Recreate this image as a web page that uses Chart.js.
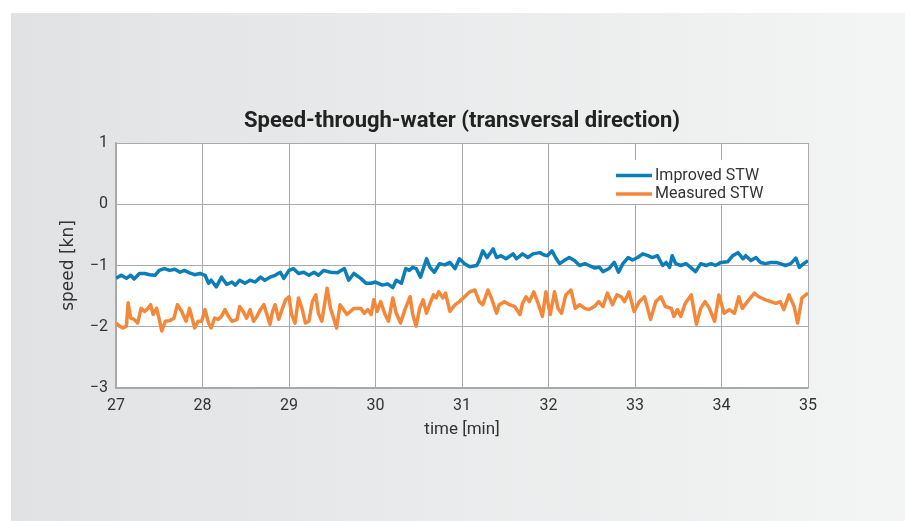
<!DOCTYPE html>
<html>
<head>
<meta charset="utf-8">
<script src="https://cdn.jsdelivr.net/npm/chart.js@4.4.1/dist/chart.umd.min.js"></script>
<style>
  html, body { margin: 0; padding: 0; background: #fff; }
  #panel { position: absolute; left: 11px; top: 13px; width: 894px; height: 508px;
           background: linear-gradient(90deg, #e1e2e3, #f3f4f4); }
  #wrap { position: absolute; left: 0; top: 0; width: 905px; height: 521px; }
</style>
</head>
<body>
<div id="panel"></div>
<div id="wrap"><canvas id="chart" width="905" height="521"></canvas></div>
<script>
// time in minutes, speed in knots
const timeImproved = [
  27.00, 27.06, 27.12, 27.17, 27.21, 27.27, 27.33, 27.39, 27.45, 27.50, 27.56, 27.62, 27.68, 27.74, 27.79, 27.85,
  27.91, 27.97, 28.03, 28.07, 28.10, 28.16, 28.22, 28.28, 28.34, 28.38, 28.43, 28.49, 28.55, 28.61, 28.67, 28.72,
  28.78, 28.84, 28.90, 28.94, 29.00, 29.05, 29.11, 29.17, 29.23, 29.29, 29.34, 29.40, 29.48, 29.56, 29.64, 29.69,
  29.75, 29.83, 29.89, 29.95, 30.00, 30.08, 30.14, 30.20, 30.24, 30.30, 30.35, 30.39, 30.43, 30.47, 30.52, 30.59,
  30.63, 30.68, 30.74, 30.80, 30.86, 30.92, 30.97, 31.03, 31.09, 31.17, 31.20, 31.24, 31.29, 31.36, 31.40, 31.45,
  31.51, 31.59, 31.63, 31.70, 31.76, 31.82, 31.90, 31.95, 31.99, 32.04, 32.09, 32.13, 32.18, 32.24, 32.30, 32.36,
  32.42, 32.47, 32.53, 32.59, 32.63, 32.70, 32.76, 32.81, 32.86, 32.92, 32.97, 33.03, 33.09, 33.15, 33.20, 33.26,
  33.32, 33.36, 33.40, 33.43, 33.47, 33.53, 33.59, 33.65, 33.70, 33.76, 33.82, 33.88, 33.93, 33.99, 34.07, 34.13,
  34.19, 34.25, 34.28, 34.34, 34.40, 34.45, 34.51, 34.57, 34.63, 34.68, 34.74, 34.80, 34.86, 34.90, 34.95, 35.00
];
const improved = [
  -1.21, -1.16, -1.21, -1.16, -1.22, -1.13, -1.13, -1.15, -1.16, -1.08, -1.05, -1.08, -1.06, -1.11, -1.08, -1.12,
  -1.15, -1.13, -1.16, -1.29, -1.24, -1.35, -1.19, -1.31, -1.27, -1.32, -1.24, -1.29, -1.24, -1.27, -1.19, -1.24,
  -1.19, -1.16, -1.11, -1.21, -1.08, -1.05, -1.13, -1.11, -1.16, -1.11, -1.16, -1.08, -1.11, -1.12, -1.05, -1.24,
  -1.13, -1.21, -1.29, -1.29, -1.27, -1.32, -1.30, -1.36, -1.24, -1.29, -1.05, -1.08, -1.03, -1.05, -1.19, -0.89,
  -1.03, -1.11, -0.97, -0.99, -0.95, -1.05, -0.89, -0.97, -1.02, -1.00, -0.92, -0.76, -0.87, -0.73, -0.87, -0.84,
  -0.89, -0.81, -0.89, -0.81, -0.87, -0.81, -0.79, -0.83, -0.84, -0.76, -0.89, -0.97, -0.92, -0.87, -0.92, -1.00,
  -0.97, -1.00, -1.04, -1.03, -1.10, -1.05, -0.95, -1.11, -0.97, -0.87, -0.91, -0.87, -0.81, -0.84, -0.87, -0.84,
  -1.00, -0.95, -1.03, -0.84, -0.97, -1.00, -0.97, -1.04, -1.10, -0.97, -1.00, -0.97, -1.00, -0.95, -0.94, -0.84,
  -0.79, -0.89, -0.84, -0.92, -0.87, -0.95, -0.97, -0.95, -0.95, -0.97, -1.00, -0.97, -0.88, -1.03, -0.97, -0.92
];

const timeMeasured = [
  27.00, 27.04, 27.08, 27.12, 27.14, 27.17, 27.21, 27.25, 27.29, 27.33, 27.37, 27.40, 27.43, 27.47, 27.50, 27.53,
  27.57, 27.62, 27.67, 27.71, 27.76, 27.81, 27.85, 27.91, 27.95, 27.99, 28.03, 28.07, 28.10, 28.14, 28.18, 28.22,
  28.26, 28.30, 28.34, 28.40, 28.43, 28.47, 28.51, 28.55, 28.59, 28.63, 28.67, 28.71, 28.74, 28.78, 28.81, 28.84,
  28.88, 28.92, 28.96, 29.00, 29.03, 29.07, 29.11, 29.15, 29.19, 29.23, 29.27, 29.31, 29.34, 29.38, 29.44, 29.48,
  29.52, 29.55, 29.59, 29.63, 29.67, 29.75, 29.83, 29.87, 29.91, 29.95, 29.98, 30.02, 30.06, 30.11, 30.15, 30.20,
  30.24, 30.29, 30.34, 30.40, 30.43, 30.47, 30.51, 30.55, 30.59, 30.63, 30.67, 30.70, 30.73, 30.78, 30.81, 30.86,
  30.92, 30.97, 31.03, 31.09, 31.15, 31.20, 31.24, 31.30, 31.34, 31.40, 31.43, 31.49, 31.55, 31.61, 31.67, 31.70,
  31.74, 31.78, 31.83, 31.88, 31.93, 31.97, 32.02, 32.07, 32.11, 32.15, 32.20, 32.26, 32.31, 32.36, 32.42, 32.47,
  32.53, 32.58, 32.63, 32.68, 32.74, 32.79, 32.84, 32.88, 32.93, 32.99, 33.05, 33.11, 33.18, 33.24, 33.30, 33.35,
  33.42, 33.45, 33.49, 33.53, 33.58, 33.65, 33.71, 33.76, 33.81, 33.86, 33.92, 33.97, 34.03, 34.09, 34.15, 34.20,
  34.24, 34.30, 34.38, 34.43, 34.51, 34.57, 34.63, 34.68, 34.72, 34.78, 34.84, 34.88, 34.93, 35.00
];
const measured = [
  -1.94, -1.99, -2.02, -1.99, -1.61, -1.86, -1.88, -1.94, -1.70, -1.75, -1.70, -1.64, -1.80, -1.70, -1.88, -2.07,
  -1.91, -1.90, -1.86, -1.64, -1.75, -1.91, -1.70, -2.02, -1.91, -1.91, -1.72, -1.94, -2.02, -1.86, -1.88, -1.83,
  -1.72, -1.83, -1.91, -1.88, -1.67, -1.75, -1.86, -1.72, -1.91, -1.83, -1.72, -1.64, -1.78, -1.96, -1.75, -1.64,
  -1.88, -1.72, -1.56, -1.51, -1.80, -1.94, -1.53, -1.70, -1.94, -1.91, -1.59, -1.48, -1.78, -1.91, -1.37, -1.70,
  -1.88, -2.02, -1.64, -1.72, -1.80, -1.70, -1.70, -1.78, -1.72, -1.80, -1.56, -1.75, -1.59, -1.80, -1.91, -1.53,
  -1.78, -1.94, -1.72, -1.51, -1.80, -1.99, -1.70, -1.56, -1.78, -1.62, -1.48, -1.53, -1.43, -1.53, -1.45, -1.75,
  -1.64, -1.59, -1.51, -1.43, -1.40, -1.59, -1.64, -1.40, -1.53, -1.78, -1.64, -1.59, -1.64, -1.67, -1.80, -1.62,
  -1.51, -1.59, -1.43, -1.62, -1.83, -1.43, -1.80, -1.43, -1.70, -1.78, -1.48, -1.40, -1.70, -1.64, -1.70, -1.72,
  -1.67, -1.59, -1.67, -1.45, -1.64, -1.48, -1.51, -1.59, -1.43, -1.75, -1.59, -1.51, -1.88, -1.59, -1.51, -1.67,
  -1.70, -1.83, -1.72, -1.83, -1.62, -1.48, -1.96, -1.70, -1.59, -1.70, -1.91, -1.48, -1.78, -1.72, -1.78, -1.51,
  -1.70, -1.59, -1.45, -1.51, -1.56, -1.59, -1.62, -1.59, -1.72, -1.48, -1.67, -1.94, -1.53, -1.45
];

const seriesLabels = ['Improved STW', 'Measured STW'];
const seriesColors = ['#0b7db7', '#f4883a'];
const xTicks = [27, 28, 29, 30, 31, 32, 33, 34, 35];
const yTicks = [-3, -2, -1, 0, 1];

const pair = (ts, vs) => ts.map((t, i) => ({ x: t, y: vs[i] }));

// white plot background
const plotBackground = {
  id: 'plotBackground',
  beforeDraw(chart) {
    const { ctx, chartArea: a } = chart;
    ctx.save();
    ctx.fillStyle = '#ffffff';
    ctx.fillRect(a.left, a.top, a.right - a.left, a.bottom - a.top);
    ctx.restore();
  }
};

// legend box inside the plot, top right
const insideLegend = {
  id: 'insideLegend',
  beforeDatasetsDraw(chart) {
    const { ctx } = chart;
    ctx.save();
    ctx.fillStyle = '#ffffff';
    ctx.fillRect(610, 160, 163, 44);
    chart.data.datasets.forEach((ds, i) => {
      const y = 175.5 + i * 18.5;
      ctx.strokeStyle = ds.borderColor;
      ctx.lineWidth = 3.5;
      ctx.beginPath();
      ctx.moveTo(616, y);
      ctx.lineTo(652, y);
      ctx.stroke();
      ctx.fillStyle = '#333333';
      ctx.font = '16px Roboto';
      ctx.textBaseline = 'middle';
      ctx.fillText(ds.label, 655, y);
    });
    ctx.restore();
  }
};

const gridColor = '#a9a9a9';

new Chart(document.getElementById('chart'), {
  type: 'line',
  data: {
    datasets: [
      { label: seriesLabels[0], data: pair(timeImproved, improved), borderColor: seriesColors[0], borderWidth: 3.5,
        pointRadius: 0, tension: 0, borderJoinStyle: 'round', fill: false },
      { label: seriesLabels[1], data: pair(timeMeasured, measured), borderColor: seriesColors[1], borderWidth: 3.5,
        pointRadius: 0, tension: 0, borderJoinStyle: 'round', fill: false }
    ]
  },
  options: {
    responsive: false,
    animation: false,
    devicePixelRatio: 1,
    layout: { padding: { left: 50, top: 100, right: 97, bottom: 73 } },
    plugins: {
      legend: { display: false },
      tooltip: { enabled: false },
      title: {
        display: true,
        fullSize: false,
        text: 'Speed-through-water (transversal direction)',
        color: '#222222',
        font: { family: 'Roboto', size: 22, weight: 'bold' },
        padding: { top: 7.8, bottom: 8.8 }
      }
    },
    scales: {
      x: {
        type: 'linear',
        min: 27, max: 35,
        afterBuildTicks: s => { s.ticks = xTicks.map(v => ({ value: v })); },
        afterFit: s => { s.height = 60; },
        ticks: { color: '#333333', font: { family: 'Roboto', size: 16 }, padding: 8, maxRotation: 0 },
        grid: { color: gridColor, lineWidth: 1, drawTicks: false },
        border: { color: gridColor, width: 1.5 },
        title: { display: true, text: 'time [min]', color: '#333333',
                 font: { family: 'Roboto', size: 17 }, padding: { top: 0, bottom: 8 } }
      },
      y: {
        min: -3, max: 1,
        afterBuildTicks: s => { s.ticks = yTicks.map(v => ({ value: v })); },
        afterFit: s => { s.width = 66; },
        ticks: { color: '#333333', font: { family: 'Roboto', size: 16 }, padding: 8,
                 callback: v => String(v).replace('-', '\u2212') },
        grid: { color: gridColor, lineWidth: 1, drawTicks: false },
        border: { color: gridColor, width: 1.5 },
        title: { display: true, text: 'speed [kn]', color: '#333333',
                 font: { family: "'DejaVu Sans', sans-serif", size: 17 }, padding: { top: 8, bottom: 0 } }
      }
    }
  },
  plugins: [plotBackground, insideLegend]
});
</script>
</body>
</html>
